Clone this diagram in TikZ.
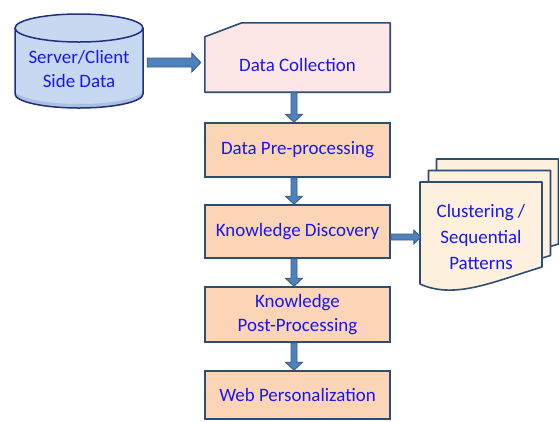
\documentclass[tikz,border=0pt]{standalone}
\usepackage{fontspec}
\setmainfont{Carlito}
\usetikzlibrary{calc}
\definecolor{boxfill}{HTML}{FBD5B5}
\definecolor{boxline}{HTML}{2E4D73}
\definecolor{pinkfill}{HTML}{FDE6E6}
\definecolor{cylfill}{HTML}{C6D9F1}
\definecolor{cyldark}{HTML}{A9C0E0}
\definecolor{cylline}{HTML}{1F2F80}
\definecolor{arrfill}{HTML}{4F81BD}
\definecolor{arrline}{HTML}{385D8A}
\definecolor{docfill}{HTML}{FDF0DC}
\definecolor{txtblue}{HTML}{1818EC}
\newcommand\vblockarrow[2]{%
  \draw[blockarr] ($(#1.south)+(-6.5,0)$) -- ($(#2.north)+(-6.5,-8)$) -- ($(#2.north)+(-12,-8)$)
    -- ($(#2.north)+(-3.5,0)$) -- ($(#2.north)+(5,-8)$) -- ($(#2.north)+(-0.5,-8)$)
    -- ($(#1.south)+(-0.5,0)$) -- cycle;}
\newcommand\docshape{(420,182) -- (542,182) -- (542,267) .. controls (495,281) and (455,300) .. (420,284) -- cycle}
\begin{document}
\begin{tikzpicture}[x=1bp,y=-1bp,
  lbl/.style={text=txtblue, font=\fontsize{19}{25}\selectfont, align=center, inner sep=0pt},
  stepbox/.style={lbl, draw=boxline, fill=boxfill, line width=1.6bp, minimum width=185bp},
  blockarr/.style={fill=arrfill, draw=arrline, line width=0.9bp, line join=miter},
  docbox/.style={fill=docfill, draw=boxline, line width=1.6bp, line join=round}]
\useasboundingbox (0,0) rectangle (559,421);

% cylinder
\fill[cylfill] (15,28) -- (15,94) .. controls (15,101.7) and (43.65,108) .. (79,108)
  .. controls (114.35,108) and (143,101.7) .. (143,94) -- (143,28) -- cycle;
\fill[cyldark] (15,90) -- (15,94) .. controls (15,101.7) and (43.65,108) .. (79,108)
  .. controls (114.35,108) and (143,101.7) .. (143,94) -- (143,90)
  .. controls (143,97.7) and (114.35,104) .. (79,104) .. controls (43.65,104) and (15,97.7) .. (15,90) -- cycle;
\draw[cylline, line width=1.5bp] (15,28) -- (15,94) .. controls (15,101.7) and (43.65,108) .. (79,108)
  .. controls (114.35,108) and (143,101.7) .. (143,94) -- (143,28);
\draw[cylline, line width=1.5bp, fill=cylfill] (79,28) ellipse [x radius=64, y radius=14];
\node[lbl, minimum width=128bp] (cyl) at (79,69) {Server/Client\\Side Data};

% Data Collection (cut corner)
\node[lbl, minimum width=185bp, minimum height=55bp] (dc) at (297.5,64.5) {};
\fill[pinkfill] (dc.south west) -- (dc.north west) -- ($(dc.north west)+(37,-14)$)
  -- ($(dc.north east)+(0,-14)$) -- (dc.south east) -- cycle;
\draw[boxline, line width=1.6bp, line join=round] (dc.south west) -- (dc.north west) -- ($(dc.north west)+(37,-14)$)
  -- ($(dc.north east)+(0,-14)$) -- (dc.south east) -- cycle;
\node[lbl] (dctext) at (dc.center) {Data Collection};

% steps
\node[stepbox, minimum height=54bp] (dp) at (297.5,150) {Data Pre-processing};
\node[stepbox, minimum height=53bp] (kd) at (297.5,231.5) {Knowledge Discovery};
\node[stepbox, minimum height=55bp] (kpp) at (297.5,314.5) {Knowledge\\Post-Processing};
\node[stepbox, minimum height=48bp] (wp) at (297.5,395) {Web Personalization};

% documents
\begin{scope}[shift={(16.5,-23)}]
  \draw[docbox] \docshape;
\end{scope}
\begin{scope}[shift={(8.5,-11.5)}]
  \draw[docbox] \docshape;
\end{scope}
\draw[docbox] \docshape;
\node[lbl, font=\fontsize{19}{26.5}\selectfont, minimum width=122bp] (docs) at (481,237)
  {Clustering /\\Sequential\\Patterns};

% arrows
\draw[blockarr] ($(cyl.east)+(4,-11)$) -- ($(dc.west)+(-13,-6.5)$) -- ($(dc.west)+(-13,-11.5)$)
  -- ($(dc.west)+(-4,-2)$) -- ($(dc.west)+(-13,7.5)$) -- ($(dc.west)+(-13,2.5)$)
  -- ($(cyl.east)+(4,-2)$) -- cycle;
\vblockarrow{dc}{dp}
\vblockarrow{dp}{kd}
\vblockarrow{kd}{kpp}
\vblockarrow{kpp}{wp}
\draw[blockarr] ($(kd.east)+(0,2.5)$) -- ($(docs.west)+(-6,-3)$) -- ($(docs.west)+(-6,-7)$)
  -- ($(docs.west)+(1,0)$) -- ($(docs.west)+(-6,7)$) -- ($(docs.west)+(-6,3)$)
  -- ($(kd.east)+(0,8.5)$) -- cycle;
\end{tikzpicture}
\end{document}
